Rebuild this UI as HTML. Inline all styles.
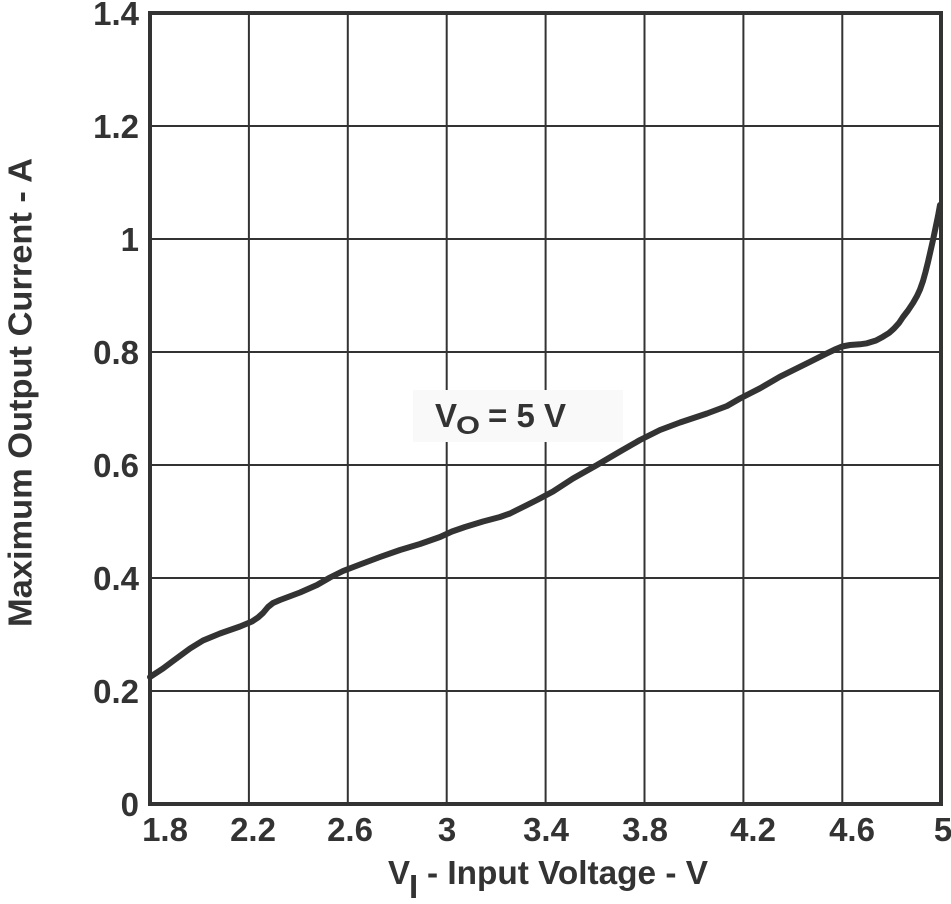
<!DOCTYPE html>
<html>
<head>
<meta charset="utf-8">
<style>
  html, body { margin: 0; padding: 0; background: #ffffff; }
  svg { display: block; }
  text { font-family: "Liberation Sans", Arial, sans-serif; font-weight: bold; fill: #333333; }
</style>
</head>
<body>
<svg width="951" height="904" viewBox="0 0 951 904" xmlns="http://www.w3.org/2000/svg">
  <rect x="0" y="0" width="951" height="904" fill="#ffffff"/>

  <!-- grid lines -->
  <g stroke="#333333" stroke-width="2" fill="none">
    <line x1="248.9" y1="13" x2="248.9" y2="804"/>
    <line x1="347.8" y1="13" x2="347.8" y2="804"/>
    <line x1="446.7" y1="13" x2="446.7" y2="804"/>
    <line x1="545.6" y1="13" x2="545.6" y2="804"/>
    <line x1="644.5" y1="13" x2="644.5" y2="804"/>
    <line x1="743.4" y1="13" x2="743.4" y2="804"/>
    <line x1="842.3" y1="13" x2="842.3" y2="804"/>
    <line x1="150" y1="691" x2="941" y2="691"/>
    <line x1="150" y1="578" x2="941" y2="578"/>
    <line x1="150" y1="465" x2="941" y2="465"/>
    <line x1="150" y1="352" x2="941" y2="352"/>
    <line x1="150" y1="239" x2="941" y2="239"/>
    <line x1="150" y1="126" x2="941" y2="126"/>
  </g>

  <!-- label background -->
  <rect x="413" y="390" width="210" height="52" fill="#f9f9f9"/>
  <text x="435" y="427" font-size="33">V</text>
  <text x="456" y="434" font-size="25" textLength="24" lengthAdjust="spacingAndGlyphs">O</text>
  <text x="488" y="427" font-size="33">= 5 V</text>

  <!-- curve -->
  <polyline fill="none" stroke="#333333" stroke-width="6" stroke-linejoin="round" stroke-linecap="round"
    points="150,677 163,668.5 173,661 190,648.5 203,640.5 220,633.5 240,626.5 252,621.5 258,617.5 263,613 268,607 273,603 280,600 300,592.5 317,585 330,577.5 343,571 360,564.5 380,557 400,550 420,544 440,537 452,531.5 465,527 483,521.5 500,517 510,513.5 523,507 537,500 553,491.5 573,478.5 597,465 620,451.5 640,440 660,430 680,422.5 707,413.5 727,406 740,398.5 760,388.3 780,376.7 807,363.3 827,353.3 836,349 842,346.5 850,345 860,344.3 867,343.3 876,340.5 883,336.7 889,333 894,328.5 899,323 903,317 908,310.5 913,303 917,296 920,289.5 923,281 925.5,272 928,262 930.5,251 933,240 935.5,228 938,216 940,205"/>

  <!-- border -->
  <rect x="150" y="13" width="791" height="791" fill="none" stroke="#333333" stroke-width="4"/>

  <!-- y tick labels -->
  <g font-size="33" text-anchor="end">
    <text x="139" y="816">0</text>
    <text x="139" y="703">0.2</text>
    <text x="139" y="590">0.4</text>
    <text x="139" y="477">0.6</text>
    <text x="139" y="364">0.8</text>
    <text x="139" y="251">1</text>
    <text x="139" y="138">1.2</text>
    <text x="139" y="25">1.4</text>
  </g>

  <!-- x tick labels -->
  <g font-size="33" text-anchor="middle">
    <text x="165" y="841">1.8</text>
    <text x="253" y="841">2.2</text>
    <text x="350" y="841">2.6</text>
    <text x="447" y="841">3</text>
    <text x="546" y="841">3.4</text>
    <text x="645" y="841">3.8</text>
    <text x="753" y="841">4.2</text>
    <text x="852" y="841">4.6</text>
    <text x="943" y="841">5</text>
  </g>

  <!-- x axis title -->
  <text x="388" y="884" font-size="33">V</text>
  <text x="409" y="898" font-size="33">I</text>
  <text x="427" y="884" font-size="33" textLength="281" lengthAdjust="spacingAndGlyphs">- Input Voltage - V</text>

  <!-- y axis title -->
  <text transform="translate(31.5,627) rotate(-90)" x="0" y="0" font-size="33" textLength="469" lengthAdjust="spacingAndGlyphs">Maximum Output Current - A</text>
</svg>
</body>
</html>
